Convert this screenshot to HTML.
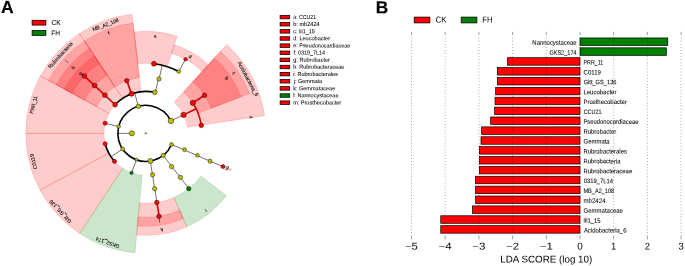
<!DOCTYPE html>
<html><head><meta charset="utf-8"><style>
html,body{margin:0;padding:0;background:#fff;}
body{width:685px;height:266px;overflow:hidden;}
svg{display:block;font-family:'Liberation Sans',sans-serif;}
svg{will-change:transform;}
text{text-rendering:geometricPrecision;}
</style></head><body>
<svg width="685" height="266" viewBox="0 0 685 266" font-family="Liberation Sans, sans-serif">
<rect width="685" height="266" fill="#fff"/>
<text transform="translate(1.1 13.1) rotate(0.15)" font-size="17.5" font-weight="bold" stroke="#000" stroke-width="0.2">A</text>
<text transform="translate(375.75 13.2) rotate(0.15)" font-size="17.3" font-weight="bold" stroke="#000" stroke-width="0.2">B</text>
<rect x="32.1" y="20.3" width="13.8" height="4.8" fill="#ff0000" stroke="#000" stroke-width="0.75"/>
<text transform="translate(56.288 25.100) rotate(0.15) scale(0.9416 1.0000)" x="-5.13" font-size="7.194" fill="#000" stroke="#000" stroke-width="0.05">CK</text>
<rect x="32.1" y="30.5" width="13.8" height="4.9" fill="#008000" stroke="#000" stroke-width="0.75"/>
<text transform="translate(55.642 35.400) rotate(0.15) scale(0.9129 1.0000)" x="-4.78" font-size="7.194" fill="#000" stroke="#000" stroke-width="0.05">FH</text>
<path d="M264.53 115.61 A120 120 0 0 0 226.61 44.59 L174.12 102.29 A42 42 0 0 1 187.39 127.14 Z" fill="rgba(255,0,0,0.2)" stroke="rgba(255,0,0,0.25)" stroke-width="0.6"/>
<path d="M249.48 93.57 A111 111 0 0 0 220.55 51.25 L183.54 91.93 A56 56 0 0 1 198.13 113.28 Z" fill="rgba(255,0,0,0.2)" stroke="rgba(255,0,0,0.25)" stroke-width="0.6"/>
<path d="M241.08 96.8 A102 102 0 0 0 214.5 57.91 L192.96 81.58 A70 70 0 0 1 211.2 108.26 Z" fill="rgba(255,0,0,0.2)" stroke="rgba(255,0,0,0.25)" stroke-width="0.6"/>
<path d="M208.44 64.56 A93 93 0 0 0 174.28 44.8 L171.53 53.37 A84 84 0 0 1 202.38 71.22 Z" fill="rgba(255,0,0,0.2)" stroke="rgba(255,0,0,0.25)" stroke-width="0.6"/>
<path d="M177.03 36.23 A102 102 0 0 0 134.13 32.03 L137.8 63.81 A70 70 0 0 1 167.25 66.7 Z" fill="rgba(255,0,0,0.2)" stroke="rgba(255,0,0,0.25)" stroke-width="0.6"/>
<path d="M132.06 14.15 A120 120 0 0 0 79.44 33.4 L122.61 98.37 A42 42 0 0 1 141.02 91.63 Z" fill="rgba(255,0,0,0.2)" stroke="rgba(255,0,0,0.25)" stroke-width="0.6"/>
<path d="M133.09 23.09 A111 111 0 0 0 84.42 40.9 L114.86 86.71 A56 56 0 0 1 139.41 77.72 Z" fill="rgba(255,0,0,0.2)" stroke="rgba(255,0,0,0.25)" stroke-width="0.6"/>
<path d="M79.44 33.4 A120 120 0 0 0 40.44 76 L108.96 113.28 A42 42 0 0 1 122.61 98.37 Z" fill="rgba(255,0,0,0.2)" stroke="rgba(255,0,0,0.25)" stroke-width="0.6"/>
<path d="M84.42 40.9 A111 111 0 0 0 48.35 80.3 L96.66 106.59 A56 56 0 0 1 114.86 86.71 Z" fill="rgba(255,0,0,0.2)" stroke="rgba(255,0,0,0.25)" stroke-width="0.6"/>
<path d="M89.4 48.39 A102 102 0 0 0 56.25 84.6 L84.36 99.9 A70 70 0 0 1 107.11 75.05 Z" fill="rgba(255,0,0,0.2)" stroke="rgba(255,0,0,0.25)" stroke-width="0.6"/>
<path d="M94.38 55.89 A93 93 0 0 0 64.16 88.9 L72.06 93.2 A84 84 0 0 1 99.37 63.38 Z" fill="rgba(255,0,0,0.2)" stroke="rgba(255,0,0,0.25)" stroke-width="0.6"/>
<path d="M40.44 76 A120 120 0 0 0 25.85 133.35 L103.85 133.35 A42 42 0 0 1 108.96 113.28 Z" fill="rgba(255,0,0,0.2)" stroke="rgba(255,0,0,0.25)" stroke-width="0.6"/>
<path d="M25.85 133.35 A120 120 0 0 0 40.09 190.06 L108.84 153.2 A42 42 0 0 1 103.85 133.35 Z" fill="rgba(255,0,0,0.2)" stroke="rgba(255,0,0,0.25)" stroke-width="0.6"/>
<path d="M40.09 190.06 A120 120 0 0 0 79.79 233.53 L122.73 168.41 A42 42 0 0 1 108.84 153.2 Z" fill="rgba(255,0,0,0.2)" stroke="rgba(255,0,0,0.25)" stroke-width="0.6"/>
<path d="M79.79 233.53 A120 120 0 0 0 134.97 252.86 L142.04 175.18 A42 42 0 0 1 122.73 168.41 Z" fill="rgba(0,128,0,0.2)" stroke="rgba(0,128,0,0.25)" stroke-width="0.6"/>
<path d="M136.61 234.93 A102 102 0 0 0 186.85 226.75 L173.99 197.45 A70 70 0 0 1 139.51 203.06 Z" fill="rgba(255,0,0,0.2)" stroke="rgba(255,0,0,0.25)" stroke-width="0.6"/>
<path d="M137.42 225.97 A93 93 0 0 0 183.23 218.51 L179.61 210.27 A84 84 0 0 1 138.24 217 Z" fill="rgba(255,0,0,0.2)" stroke="rgba(255,0,0,0.25)" stroke-width="0.6"/>
<path d="M186.85 226.75 A102 102 0 0 0 226.45 195.87 L201.16 176.25 A70 70 0 0 1 173.99 197.45 Z" fill="rgba(0,128,0,0.2)" stroke="rgba(0,128,0,0.25)" stroke-width="0.6"/>
<path d="M231.01 170.73 A93 93 0 0 0 231.52 169.54 L223.23 166.04 A84 84 0 0 1 222.77 167.11 Z" fill="rgba(255,0,0,0.2)" stroke="rgba(255,0,0,0.25)" stroke-width="0.6"/>
<line x1="131.85" y1="133.35" x2="117.85" y2="133.35" stroke="#666" stroke-width="0.9"/>
<path d="M170.93 120.9 A28 28 0 1 0 171.53 144.51" fill="none" stroke="#000" stroke-width="1.6"/>
<line x1="170.95" y1="120.94" x2="183.5" y2="114.74" stroke="#444" stroke-width="0.75"/>
<line x1="183.57" y1="114.87" x2="196.14" y2="108.71" stroke="#d80000" stroke-width="1.6"/>
<path d="M201.28 125.36 A56 56 0 0 0 192.82 102.85" fill="none" stroke="#d80000" stroke-width="1.6"/>
<line x1="192.82" y1="102.85" x2="204.56" y2="95.23" stroke="#d80000" stroke-width="1.6"/>
<line x1="138.37" y1="106.37" x2="134.63" y2="92.88" stroke="#444" stroke-width="0.75"/>
<path d="M154.87 92.33 A42 42 0 0 0 115.13 104.71" fill="none" stroke="#000" stroke-width="1.6"/>
<line x1="155.3" y1="92.43" x2="158.45" y2="78.79" stroke="#444" stroke-width="0.75"/>
<line x1="159.02" y1="78.92" x2="162.31" y2="65.31" stroke="#444" stroke-width="0.75"/>
<path d="M178.71 71.54 A70 70 0 0 0 153.9 63.81" fill="none" stroke="#000" stroke-width="1.6"/>
<line x1="178.82" y1="71.6" x2="185.41" y2="59.25" stroke="#444" stroke-width="0.75"/>
<line x1="131.55" y1="93.86" x2="126.79" y2="80.69" stroke="#d80000" stroke-width="1.6"/>
<line x1="115.13" y1="104.71" x2="84.42" y2="76.06" stroke="#d80000" stroke-width="1.6"/>
<line x1="118.68" y1="126.58" x2="105.1" y2="123.19" stroke="#444" stroke-width="0.75"/>
<line x1="122.64" y1="149.01" x2="111.03" y2="156.84" stroke="#444" stroke-width="0.75"/>
<path d="M105.17 143.79 A42 42 0 0 0 114.54 161.34" fill="none" stroke="#000" stroke-width="1.6"/>
<line x1="136.37" y1="159.69" x2="131.62" y2="172.87" stroke="#444" stroke-width="0.75"/>
<line x1="150.28" y1="161" x2="156.92" y2="202.47" stroke="#444" stroke-width="0.75"/>
<line x1="156.92" y1="202.47" x2="159.14" y2="216.29" stroke="#d80000" stroke-width="1.6"/>
<line x1="163.09" y1="155.41" x2="188.95" y2="188.51" stroke="#444" stroke-width="0.75"/>
<line x1="171.55" y1="144.47" x2="222.94" y2="166.71" stroke="#444" stroke-width="0.75"/>
<circle cx="145.85" cy="133.35" r="0.7" fill="#bfbf00" stroke="#111" stroke-width="0.5"/>
<circle cx="131.85" cy="133.35" r="2.55" fill="#bfbf00" stroke="#111" stroke-width="0.5"/>
<circle cx="170.93" cy="120.9" r="2.75" fill="#bfbf00" stroke="#111" stroke-width="0.5"/>
<circle cx="138.37" cy="106.37" r="2.25" fill="#bfbf00" stroke="#111" stroke-width="0.5"/>
<circle cx="118.71" cy="126.48" r="1.75" fill="#bfbf00" stroke="#111" stroke-width="0.5"/>
<circle cx="122.64" cy="149.01" r="1.95" fill="#bfbf00" stroke="#111" stroke-width="0.5"/>
<circle cx="136.41" cy="159.71" r="1.45" fill="#bfbf00" stroke="#111" stroke-width="0.5"/>
<circle cx="150.37" cy="160.98" r="2.55" fill="#bfbf00" stroke="#111" stroke-width="0.5"/>
<circle cx="163.2" cy="155.32" r="2.15" fill="#bfbf00" stroke="#111" stroke-width="0.5"/>
<circle cx="171.53" cy="144.51" r="1.95" fill="#bfbf00" stroke="#111" stroke-width="0.5"/>
<circle cx="183.57" cy="114.87" r="2.7" fill="red" stroke="#111" stroke-width="0.5"/>
<circle cx="192.82" cy="102.85" r="2.7" fill="red" stroke="#111" stroke-width="0.5"/>
<circle cx="201.28" cy="125.36" r="2.3" fill="red" stroke="#111" stroke-width="0.5"/>
<circle cx="204.56" cy="95.23" r="2.3" fill="red" stroke="#111" stroke-width="0.5"/>
<circle cx="154.87" cy="92.33" r="2.35" fill="#bfbf00" stroke="#111" stroke-width="0.5"/>
<circle cx="159.02" cy="78.92" r="2.15" fill="#bfbf00" stroke="#111" stroke-width="0.5"/>
<circle cx="153.9" cy="63.81" r="2.5" fill="red" stroke="#111" stroke-width="0.5"/>
<circle cx="178.71" cy="71.54" r="1.85" fill="#bfbf00" stroke="#111" stroke-width="0.5"/>
<circle cx="185.54" cy="59.32" r="1.8" fill="red" stroke="#111" stroke-width="0.5"/>
<circle cx="131.55" cy="93.86" r="2.5" fill="red" stroke="#111" stroke-width="0.5"/>
<circle cx="126.79" cy="80.69" r="2.3" fill="red" stroke="#111" stroke-width="0.5"/>
<circle cx="115.13" cy="104.71" r="2.4" fill="red" stroke="#111" stroke-width="0.5"/>
<circle cx="104.89" cy="95.16" r="2.4" fill="red" stroke="#111" stroke-width="0.5"/>
<circle cx="94.66" cy="85.61" r="2.4" fill="red" stroke="#111" stroke-width="0.5"/>
<circle cx="84.42" cy="76.06" r="2.4" fill="red" stroke="#111" stroke-width="0.5"/>
<circle cx="105.1" cy="123.19" r="2.05" fill="red" stroke="#111" stroke-width="0.5"/>
<circle cx="105.17" cy="143.79" r="2.1" fill="red" stroke="#111" stroke-width="0.5"/>
<circle cx="114.54" cy="161.34" r="2.1" fill="red" stroke="#111" stroke-width="0.5"/>
<circle cx="131.55" cy="172.84" r="1.7" fill="green" stroke="#111" stroke-width="0.5"/>
<circle cx="152.57" cy="174.81" r="2.15" fill="#bfbf00" stroke="#111" stroke-width="0.5"/>
<circle cx="154.61" cy="188.66" r="2.15" fill="#bfbf00" stroke="#111" stroke-width="0.5"/>
<circle cx="156.8" cy="202.49" r="2.3" fill="red" stroke="#111" stroke-width="0.5"/>
<circle cx="158.99" cy="216.32" r="2.3" fill="red" stroke="#111" stroke-width="0.5"/>
<circle cx="171.59" cy="166.54" r="2.15" fill="#bfbf00" stroke="#111" stroke-width="0.5"/>
<circle cx="180.4" cy="177.42" r="2.15" fill="#bfbf00" stroke="#111" stroke-width="0.5"/>
<circle cx="188.75" cy="188.66" r="2.2" fill="green" stroke="#111" stroke-width="0.5"/>
<circle cx="184.57" cy="149.63" r="1.95" fill="#bfbf00" stroke="#111" stroke-width="0.5"/>
<circle cx="197.4" cy="155.23" r="1.85" fill="#bfbf00" stroke="#111" stroke-width="0.5"/>
<circle cx="210.09" cy="161.15" r="2.05" fill="#bfbf00" stroke="#111" stroke-width="0.5"/>
<circle cx="223" cy="166.58" r="2.0" fill="red" stroke="#111" stroke-width="0.5"/>
<text transform="translate(246.452 79.633) rotate(61.90) scale(1.0501 1.0000)" x="-18.29" font-size="5.131" fill="#000" stroke="#000" stroke-width="0.08">Acidobacteria_6</text>
<text transform="translate(106.284 26.388) rotate(-20.30) scale(0.9847 1.0000)" x="-14.23" font-size="5.131" fill="#000" stroke="#000" stroke-width="0.08">MB_A2_108</text>
<text transform="translate(61.767 56.302) rotate(-47.50) scale(1.0420 1.0000)" x="-16.32" font-size="5.131" fill="#000" stroke="#000" stroke-width="0.08">Rubrobacteria</text>
<text transform="translate(35.339 105.181) rotate(-75.70) scale(0.9452 1.0000)" x="-9.58" font-size="5.131" fill="#000" stroke="#000" stroke-width="0.08">PRR_11</text>
<text transform="translate(35.241 161.133) rotate(-104.10) scale(1.0610 1.0000)" x="-7.38" font-size="5.131" fill="#000" stroke="#000" stroke-width="0.08">C0119</text>
<text transform="translate(61.633 210.251) rotate(-132.40) scale(1.0042 1.0000)" x="-14.84" font-size="5.131" fill="#000" stroke="#000" stroke-width="0.08">Gitt_GS_136</text>
<text transform="translate(108.156 240.986) rotate(-160.70) scale(0.9825 1.0000)" x="-12.60" font-size="5.131" fill="#000" stroke="#000" stroke-width="0.08">GKS2_174</text>
<text transform="translate(249.760 117.449) rotate(81.30) scale(0.8525 1.0000)" x="-1.46" font-size="4.867" fill="#000" stroke="#000" stroke-width="0.08">a</text>
<text transform="translate(225.255 79.184) rotate(55.70) scale(1.0292 1.0000)" x="-1.41" font-size="4.867" fill="#000" stroke="#000" stroke-width="0.08">b</text>
<text transform="translate(232.689 74.112) rotate(55.70) scale(0.9562 1.0000)" x="-1.27" font-size="4.867" fill="#000" stroke="#000" stroke-width="0.08">c</text>
<text transform="translate(189.278 57.826) rotate(29.90) scale(1.0292 1.0000)" x="-1.29" font-size="4.867" fill="#000" stroke="#000" stroke-width="0.08">d</text>
<text transform="translate(155.063 37.673) rotate(5.50) scale(1.0265 1.0000)" x="-1.35" font-size="4.867" fill="#000" stroke="#000" stroke-width="0.08">e</text>
<text transform="translate(109.380 34.759) rotate(-20.30) scale(1.2306 1.0000)" x="-0.72" font-size="4.867" fill="#000" stroke="#000" stroke-width="0.08">f</text>
<text transform="translate(81.618 74.493) rotate(-47.50) scale(1.0292 1.0000)" x="-1.29" font-size="4.867" fill="#000" stroke="#000" stroke-width="0.08">g</text>
<text transform="translate(74.757 68.660) rotate(-47.70) scale(1.0352 1.0000)" x="-1.36" font-size="4.867" fill="#000" stroke="#000" stroke-width="0.08">h</text>
<text transform="translate(68.100 62.603) rotate(-47.70) scale(0.9452 1.0000)" x="-0.54" font-size="4.867" fill="#000" stroke="#000" stroke-width="0.08">i</text>
<text transform="translate(159.479 219.397) rotate(-189.00) scale(1.0765 1.0000)" x="-0.32" font-size="4.867" fill="#000" stroke="#000" stroke-width="0.08">j</text>
<text transform="translate(161.218 228.234) rotate(-189.20) scale(1.0538 1.0000)" x="-1.37" font-size="4.867" fill="#000" stroke="#000" stroke-width="0.08">k</text>
<text transform="translate(204.961 209.145) rotate(-217.95) scale(0.9452 1.0000)" x="-0.54" font-size="4.867" fill="#000" stroke="#000" stroke-width="0.08">l</text>
<text transform="translate(225.865 167.810) rotate(-246.70) scale(1.0802 1.0000)" x="-2.02" font-size="4.867" fill="#000" stroke="#000" stroke-width="0.08">m</text>
<rect x="280.1" y="15.35" width="9.6" height="3.5" fill="#ff0000" stroke="#000" stroke-width="0.75"/>
<text transform="translate(304.629 18.900) rotate(0.15) scale(0.9936 1.1000)" x="-11.44" font-size="5.216" fill="#000" stroke="#000" stroke-width="0.05">a: CCU21</text>
<rect x="280.1" y="22.48" width="9.6" height="3.5" fill="#ff0000" stroke="#000" stroke-width="0.75"/>
<text transform="translate(306.552 26.030) rotate(0.15) scale(1.0810 1.1000)" x="-12.41" font-size="5.216" fill="#000" stroke="#000" stroke-width="0.05">b: mb2424</text>
<rect x="280.1" y="29.61" width="9.6" height="3.5" fill="#ff0000" stroke="#000" stroke-width="0.75"/>
<text transform="translate(304.112 33.160) rotate(0.15) scale(1.0542 1.1000)" x="-10.30" font-size="5.216" fill="#000" stroke="#000" stroke-width="0.05">c: iii1_15</text>
<rect x="280.1" y="36.74" width="9.6" height="3.5" fill="#ff0000" stroke="#000" stroke-width="0.75"/>
<text transform="translate(311.741 40.290) rotate(0.15) scale(1.0662 1.1000)" x="-17.32" font-size="5.216" fill="#000" stroke="#000" stroke-width="0.05">d: Leucobacter</text>
<rect x="280.1" y="43.87" width="9.6" height="3.5" fill="#ff0000" stroke="#000" stroke-width="0.75"/>
<text transform="translate(321.798 47.420) rotate(0.15) scale(1.0419 1.1000)" x="-27.40" font-size="5.216" fill="#000" stroke="#000" stroke-width="0.05">e: Pseudonocardiaceae</text>
<rect x="280.1" y="51" width="9.6" height="3.5" fill="#ff0000" stroke="#000" stroke-width="0.75"/>
<text transform="translate(309.276 54.550) rotate(0.15) scale(1.0439 1.1000)" x="-15.19" font-size="5.216" fill="#000" stroke="#000" stroke-width="0.05">f: 0319_7L14</text>
<rect x="280.1" y="58.13" width="9.6" height="3.5" fill="#ff0000" stroke="#000" stroke-width="0.75"/>
<text transform="translate(311.667 61.680) rotate(0.15) scale(1.0627 1.1000)" x="-17.30" font-size="5.216" fill="#000" stroke="#000" stroke-width="0.05">g: Rubrobacter</text>
<rect x="280.1" y="65.26" width="9.6" height="3.5" fill="#ff0000" stroke="#000" stroke-width="0.75"/>
<text transform="translate(318.853 68.810) rotate(0.15) scale(1.0538 1.1000)" x="-24.42" font-size="5.216" fill="#000" stroke="#000" stroke-width="0.05">h: Rubrobacteraceae</text>
<rect x="280.1" y="72.39" width="9.6" height="3.5" fill="#ff0000" stroke="#000" stroke-width="0.75"/>
<text transform="translate(315.562 75.940) rotate(0.15) scale(1.0555 1.1000)" x="-21.24" font-size="5.216" fill="#000" stroke="#000" stroke-width="0.05">i: Rubrobacterales</text>
<rect x="280.1" y="79.52" width="9.6" height="3.5" fill="#ff0000" stroke="#000" stroke-width="0.75"/>
<text transform="translate(307.834 83.070) rotate(0.15) scale(1.0590 1.1000)" x="-13.40" font-size="5.216" fill="#000" stroke="#000" stroke-width="0.05">j: Gemmata</text>
<rect x="280.1" y="86.65" width="9.6" height="3.5" fill="#ff0000" stroke="#000" stroke-width="0.75"/>
<text transform="translate(314.305 90.200) rotate(0.15) scale(1.0630 1.1000)" x="-19.91" font-size="5.216" fill="#000" stroke="#000" stroke-width="0.05">k: Gemmataceae</text>
<rect x="280.1" y="93.78" width="9.6" height="3.5" fill="#008000" stroke="#000" stroke-width="0.75"/>
<text transform="translate(315.895 97.330) rotate(0.15) scale(1.0582 1.1000)" x="-21.50" font-size="5.216" fill="#000" stroke="#000" stroke-width="0.05">l: Nannocystaceae</text>
<rect x="280.1" y="100.91" width="9.6" height="3.5" fill="#ff0000" stroke="#000" stroke-width="0.75"/>
<text transform="translate(317.324 104.460) rotate(0.15) scale(1.0635 1.1000)" x="-22.74" font-size="5.216" fill="#000" stroke="#000" stroke-width="0.05">m: Prosthecobacter</text>
<rect x="580" y="37.95" width="87.79" height="7.5" fill="#008000" stroke="#000" stroke-width="0.7"/>
<text transform="translate(554.612 44.800) rotate(0.15) scale(1.0510 1.1400)" x="-21.18" font-size="5.660" fill="#000" stroke="#000" stroke-width="0.05">Nannocystaceae</text>
<rect x="580" y="47.83" width="86.31" height="7.5" fill="#008000" stroke="#000" stroke-width="0.7"/>
<text transform="translate(563.025 54.680) rotate(0.15) scale(0.9825 1.1400)" x="-13.90" font-size="5.660" fill="#000" stroke="#000" stroke-width="0.05">GKS2_174</text>
<rect x="507.51" y="57.71" width="72.49" height="7.5" fill="#ff0000" stroke="#000" stroke-width="0.7"/>
<text transform="translate(593.463 64.560) rotate(0.15) scale(0.9452 1.1400)" x="-10.57" font-size="5.660" fill="#000" stroke="#000" stroke-width="0.05">PRR_11</text>
<rect x="497.4" y="67.59" width="82.6" height="7.5" fill="#ff0000" stroke="#000" stroke-width="0.7"/>
<text transform="translate(592.233 74.440) rotate(0.15) scale(1.0610 1.1400)" x="-8.14" font-size="5.660" fill="#000" stroke="#000" stroke-width="0.05">C0119</text>
<rect x="497.4" y="77.47" width="82.6" height="7.5" fill="#ff0000" stroke="#000" stroke-width="0.7"/>
<text transform="translate(600.057 84.320) rotate(0.15) scale(1.0042 1.1400)" x="-16.37" font-size="5.660" fill="#000" stroke="#000" stroke-width="0.05">Gitt_GS_136</text>
<rect x="495.65" y="87.35" width="84.35" height="7.5" fill="#ff0000" stroke="#000" stroke-width="0.7"/>
<text transform="translate(600.124 94.200) rotate(0.15) scale(1.0606 1.1400)" x="-15.75" font-size="5.660" fill="#000" stroke="#000" stroke-width="0.05">Leucobacter</text>
<rect x="495.04" y="97.23" width="84.96" height="7.5" fill="#ff0000" stroke="#000" stroke-width="0.7"/>
<text transform="translate(605.367 104.080) rotate(0.15) scale(1.0557 1.1400)" x="-20.79" font-size="5.660" fill="#000" stroke="#000" stroke-width="0.05">Prosthecobacter</text>
<rect x="494.54" y="107.11" width="85.46" height="7.5" fill="#ff0000" stroke="#000" stroke-width="0.7"/>
<text transform="translate(592.607 113.960) rotate(0.15) scale(0.9675 1.1400)" x="-9.28" font-size="5.660" fill="#000" stroke="#000" stroke-width="0.05">CCU21</text>
<rect x="490.66" y="116.99" width="89.34" height="7.5" fill="#ff0000" stroke="#000" stroke-width="0.7"/>
<text transform="translate(611.091 123.840) rotate(0.15) scale(1.0365 1.1400)" x="-26.69" font-size="5.660" fill="#000" stroke="#000" stroke-width="0.05">Pseudonocardiaceae</text>
<rect x="481.66" y="126.87" width="98.34" height="7.5" fill="#ff0000" stroke="#000" stroke-width="0.7"/>
<text transform="translate(600.044 133.720) rotate(0.15) scale(1.0554 1.1400)" x="-15.75" font-size="5.660" fill="#000" stroke="#000" stroke-width="0.05">Rubrobacter</text>
<rect x="480.99" y="136.75" width="99.01" height="7.5" fill="#ff0000" stroke="#000" stroke-width="0.7"/>
<text transform="translate(596.767 143.600) rotate(0.15) scale(1.0476 1.1400)" x="-12.57" font-size="5.660" fill="#000" stroke="#000" stroke-width="0.05">Gemmata</text>
<rect x="479.44" y="146.63" width="100.56" height="7.5" fill="#ff0000" stroke="#000" stroke-width="0.7"/>
<text transform="translate(605.327 153.480) rotate(0.15) scale(1.0479 1.1400)" x="-20.90" font-size="5.660" fill="#000" stroke="#000" stroke-width="0.05">Rubrobacterales</text>
<rect x="479.44" y="156.51" width="100.56" height="7.5" fill="#ff0000" stroke="#000" stroke-width="0.7"/>
<text transform="translate(602.184 163.360) rotate(0.15) scale(1.0420 1.1400)" x="-18.00" font-size="5.660" fill="#000" stroke="#000" stroke-width="0.05">Rubrobacteria</text>
<rect x="479.34" y="166.39" width="100.66" height="7.5" fill="#ff0000" stroke="#000" stroke-width="0.7"/>
<text transform="translate(607.935 173.240) rotate(0.15) scale(1.0485 1.1400)" x="-23.38" font-size="5.660" fill="#000" stroke="#000" stroke-width="0.05">Rubrobacteraceae</text>
<rect x="475.6" y="176.27" width="104.4" height="7.5" fill="#ff0000" stroke="#000" stroke-width="0.7"/>
<text transform="translate(598.318 183.120) rotate(0.15) scale(1.0324 1.1400)" x="-14.19" font-size="5.660" fill="#000" stroke="#000" stroke-width="0.05">0319_7L14</text>
<rect x="475.6" y="186.15" width="104.4" height="7.5" fill="#ff0000" stroke="#000" stroke-width="0.7"/>
<text transform="translate(598.907 193.000) rotate(0.15) scale(0.9847 1.1400)" x="-15.69" font-size="5.660" fill="#000" stroke="#000" stroke-width="0.05">MB_A2_108</text>
<rect x="475.6" y="196.03" width="104.4" height="7.5" fill="#ff0000" stroke="#000" stroke-width="0.7"/>
<text transform="translate(594.627 202.880) rotate(0.15) scale(1.0768 1.1400)" x="-10.33" font-size="5.660" fill="#000" stroke="#000" stroke-width="0.05">mb2424</text>
<rect x="472.36" y="205.91" width="107.64" height="7.5" fill="#ff0000" stroke="#000" stroke-width="0.7"/>
<text transform="translate(603.267 212.760) rotate(0.15) scale(1.0585 1.1400)" x="-18.58" font-size="5.660" fill="#000" stroke="#000" stroke-width="0.05">Gemmataceae</text>
<rect x="440.75" y="215.79" width="139.25" height="7.5" fill="#ff0000" stroke="#000" stroke-width="0.7"/>
<text transform="translate(592.086 222.640) rotate(0.15) scale(1.0385 1.1400)" x="-8.25" font-size="5.660" fill="#000" stroke="#000" stroke-width="0.05">iii1_15</text>
<rect x="440.75" y="225.67" width="139.25" height="7.5" fill="#ff0000" stroke="#000" stroke-width="0.7"/>
<text transform="translate(605.059 232.520) rotate(0.15) scale(1.0501 1.1400)" x="-20.18" font-size="5.660" fill="#000" stroke="#000" stroke-width="0.05">Acidobacteria_6</text>
<line x1="411.5" y1="31.8" x2="411.5" y2="35.0" stroke="#777" stroke-width="0.7"/>
<line x1="411.5" y1="37.75" x2="411.5" y2="233.2" stroke="#111" stroke-width="0.4" stroke-dasharray="0.9 2.184"/>
<line x1="411.5" y1="235.3" x2="411.5" y2="239.4" stroke="#777" stroke-width="0.7"/>
<text transform="translate(411.500 249.500) rotate(0.15) scale(1.1568 1.0000)" x="-5.66" font-size="9.839" fill="#000">−5</text>
<line x1="445.2" y1="31.8" x2="445.2" y2="35.0" stroke="#777" stroke-width="0.7"/>
<line x1="445.2" y1="37.75" x2="445.2" y2="233.2" stroke="#111" stroke-width="0.4" stroke-dasharray="0.9 2.184"/>
<line x1="445.2" y1="235.3" x2="445.2" y2="239.4" stroke="#777" stroke-width="0.7"/>
<text transform="translate(445.200 249.500) rotate(0.15) scale(1.1726 1.0000)" x="-5.71" font-size="9.839" fill="#000">−4</text>
<line x1="478.9" y1="31.8" x2="478.9" y2="35.0" stroke="#777" stroke-width="0.7"/>
<line x1="478.9" y1="37.75" x2="478.9" y2="233.2" stroke="#111" stroke-width="0.4" stroke-dasharray="0.9 2.184"/>
<line x1="478.9" y1="235.3" x2="478.9" y2="239.4" stroke="#777" stroke-width="0.7"/>
<text transform="translate(478.900 249.500) rotate(0.15) scale(1.1668 1.0000)" x="-5.63" font-size="9.839" fill="#000">−3</text>
<line x1="512.6" y1="31.8" x2="512.6" y2="35.0" stroke="#777" stroke-width="0.7"/>
<line x1="512.6" y1="37.75" x2="512.6" y2="233.2" stroke="#111" stroke-width="0.4" stroke-dasharray="0.9 2.184"/>
<line x1="512.6" y1="235.3" x2="512.6" y2="239.4" stroke="#777" stroke-width="0.7"/>
<text transform="translate(512.600 249.500) rotate(0.15) scale(1.1542 1.0000)" x="-5.61" font-size="9.839" fill="#000">−2</text>
<line x1="546.3" y1="31.8" x2="546.3" y2="35.0" stroke="#777" stroke-width="0.7"/>
<line x1="546.3" y1="37.75" x2="546.3" y2="233.2" stroke="#111" stroke-width="0.4" stroke-dasharray="0.9 2.184"/>
<line x1="546.3" y1="235.3" x2="546.3" y2="239.4" stroke="#777" stroke-width="0.7"/>
<text transform="translate(546.300 249.500) rotate(0.15) scale(1.1633 1.0000)" x="-5.61" font-size="9.839" fill="#000">−1</text>
<line x1="580" y1="31.8" x2="580" y2="35.0" stroke="#777" stroke-width="0.7"/>
<line x1="580" y1="37.75" x2="580" y2="233.2" stroke="#111" stroke-width="0.4" stroke-dasharray="0.9 2.184"/>
<line x1="580" y1="235.3" x2="580" y2="239.4" stroke="#777" stroke-width="0.7"/>
<text transform="translate(580.000 249.500) rotate(0.15) scale(1.0049 1.0000)" x="-2.73" font-size="9.839" fill="#000">0</text>
<line x1="613.7" y1="31.8" x2="613.7" y2="35.0" stroke="#777" stroke-width="0.7"/>
<line x1="613.7" y1="37.75" x2="613.7" y2="233.2" stroke="#111" stroke-width="0.4" stroke-dasharray="0.9 2.184"/>
<line x1="613.7" y1="235.3" x2="613.7" y2="239.4" stroke="#777" stroke-width="0.7"/>
<text transform="translate(613.700 249.500) rotate(0.15) scale(0.9562 1.0000)" x="-2.85" font-size="9.839" fill="#000">1</text>
<line x1="647.4" y1="31.8" x2="647.4" y2="35.0" stroke="#777" stroke-width="0.7"/>
<line x1="647.4" y1="37.75" x2="647.4" y2="233.2" stroke="#111" stroke-width="0.4" stroke-dasharray="0.9 2.184"/>
<line x1="647.4" y1="235.3" x2="647.4" y2="239.4" stroke="#777" stroke-width="0.7"/>
<text transform="translate(647.400 249.500) rotate(0.15) scale(0.9556 1.0000)" x="-2.73" font-size="9.839" fill="#000">2</text>
<line x1="681.1" y1="31.8" x2="681.1" y2="35.0" stroke="#777" stroke-width="0.7"/>
<line x1="681.1" y1="37.75" x2="681.1" y2="233.2" stroke="#111" stroke-width="0.4" stroke-dasharray="0.9 2.184"/>
<line x1="681.1" y1="235.3" x2="681.1" y2="239.4" stroke="#777" stroke-width="0.7"/>
<text transform="translate(681.100 249.500) rotate(0.15) scale(0.9653 1.0000)" x="-2.71" font-size="9.839" fill="#000">3</text>
<text transform="translate(546.402 262.500) rotate(0.15) scale(0.9999 1.0000)" x="-46.19" font-size="9.818" fill="#000">LDA SCORE (log 10)</text>
<rect x="414.2" y="17.1" width="15.7" height="5.8" fill="#ff0000" stroke="#000" stroke-width="0.75"/>
<text transform="translate(441.280 22.600) rotate(0.15) scale(0.9416 1.0000)" x="-6.03" font-size="8.464" fill="#000">CK</text>
<rect x="461.2" y="17.1" width="15.7" height="5.8" fill="#008000" stroke="#000" stroke-width="0.75"/>
<text transform="translate(487.420 22.600) rotate(0.15) scale(0.9129 1.0000)" x="-5.63" font-size="8.464" fill="#000">FH</text>
</svg>
</body></html>
